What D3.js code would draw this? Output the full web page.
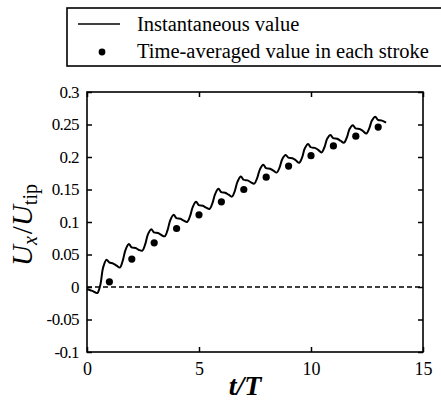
<!DOCTYPE html>
<html><head><meta charset="utf-8">
<script src="https://cdn.jsdelivr.net/npm/d3@7"></script>
<style>
html,body{margin:0;padding:0;background:#fff;}
svg{display:block;font-family:"Liberation Serif","Times New Roman",serif;}
</style></head>
<body><svg id="c" width="441" height="403"></svg>
<script>
// ---- data ----
const lineT = [0, 0.15, 0.3, 0.4, 0.47, 0.6, 0.72, 0.87, 0.99, 1.17, 1.32,
  1.47, 1.6, 1.72, 1.87, 1.99, 2.17, 2.32,
  2.47, 2.6, 2.72, 2.87, 2.99, 3.17, 3.32,
  3.47, 3.6, 3.72, 3.87, 3.99, 4.17, 4.32,
  4.47, 4.6, 4.72, 4.87, 4.99, 5.17, 5.32,
  5.47, 5.6, 5.72, 5.87, 5.99, 6.17, 6.32,
  6.47, 6.6, 6.72, 6.87, 6.99, 7.17, 7.32,
  7.47, 7.6, 7.72, 7.87, 7.99, 8.17, 8.32,
  8.47, 8.6, 8.72, 8.87, 8.99, 9.17, 9.32,
  9.47, 9.6, 9.72, 9.87, 9.99, 10.17, 10.32,
  10.47, 10.6, 10.72, 10.87, 10.99, 11.17, 11.32,
  11.47, 11.6, 11.72, 11.87, 11.99, 12.17, 12.32,
  12.47, 12.6, 12.72, 12.87, 12.99, 13.17, 13.35];
const lineV = [-0.003, -0.005, -0.007, -0.009, -0.009, 0.004, 0.030, 0.042, 0.038, 0.036, 0.033,
  0.030, 0.041, 0.057, 0.066, 0.061, 0.060, 0.057,
  0.056, 0.066, 0.081, 0.089, 0.084, 0.083, 0.080,
  0.078, 0.088, 0.103, 0.111, 0.106, 0.105, 0.102,
  0.100, 0.109, 0.123, 0.131, 0.126, 0.125, 0.122,
  0.120, 0.129, 0.143, 0.151, 0.146, 0.145, 0.142,
  0.139, 0.148, 0.162, 0.170, 0.165, 0.164, 0.161,
  0.159, 0.168, 0.181, 0.188, 0.183, 0.182, 0.179,
  0.176, 0.184, 0.197, 0.203, 0.199, 0.198, 0.195,
  0.191, 0.199, 0.213, 0.220, 0.215, 0.214, 0.211,
  0.207, 0.215, 0.228, 0.234, 0.229, 0.228, 0.225,
  0.222, 0.230, 0.243, 0.249, 0.244, 0.243, 0.240,
  0.236, 0.244, 0.256, 0.262, 0.257, 0.256, 0.253];
const strokeT = [1, 2, 3, 4, 5, 6, 7, 8, 9, 10, 11, 12, 13];
const strokeV = [0.008, 0.043, 0.068, 0.090, 0.111, 0.131, 0.150, 0.169, 0.186, 0.202, 0.217, 0.232, 0.246];
const xTicks = [0, 5, 10, 15];
const yTicks = [-0.1, -0.05, 0, 0.05, 0.1, 0.15, 0.2, 0.25, 0.3];
const legendLabels = ["Instantaneous value", "Time-averaged value in each stroke"];

// ---- layout ----
const L = 87, R = 423, T = 92, B = 352;
const svg = d3.select("#c");
const x = d3.scaleLinear().domain([0, 15]).range([L, R]);
const y = d3.scaleLinear().domain([-0.1, 0.3]).range([B, T]);
const fmt = d => (d === 0 ? "0" : String(+d.toFixed(2)));

// axes (ticks inward)
const tl = 5;
svg.append("g").attr("transform", `translate(0,${B})`)
  .call(d3.axisBottom(x).tickValues(xTicks).tickSizeInner(-tl).tickSizeOuter(0).tickPadding(tl + 5).tickFormat(d3.format("d")))
  .call(g => { g.select(".domain").remove(); g.selectAll("text").attr("font-size", 18).attr("font-family", "Liberation Serif").attr("fill", "#000"); g.selectAll("line").attr("stroke-width", 1.5); });
svg.append("g").attr("transform", `translate(0,${T})`)
  .call(d3.axisTop(x).tickValues(xTicks).tickSizeInner(-tl).tickSizeOuter(0).tickFormat(""))
  .call(g => { g.select(".domain").remove(); g.selectAll("line").attr("stroke-width", 1.5); });
svg.append("g").attr("transform", `translate(${L},0)`)
  .call(d3.axisLeft(y).tickValues(yTicks).tickSizeInner(-tl).tickSizeOuter(0).tickPadding(tl + 3).tickFormat(fmt))
  .call(g => { g.select(".domain").remove(); g.selectAll("text").attr("font-size", 17).attr("font-family", "Liberation Serif").attr("letter-spacing", "-0.6px").attr("fill", "#000"); g.selectAll("line").attr("stroke-width", 1.5); });
svg.append("g").attr("transform", `translate(${R},0)`)
  .call(d3.axisRight(y).tickValues(yTicks).tickSizeInner(-tl).tickSizeOuter(0).tickFormat(""))
  .call(g => { g.select(".domain").remove(); g.selectAll("line").attr("stroke-width", 1.5); });

svg.append("rect").attr("x", L).attr("y", T).attr("width", R - L).attr("height", B - T)
  .attr("fill", "none").attr("stroke", "#000").attr("stroke-width", 1.6);

// zero dashed line
svg.append("line").attr("x1", x(0)).attr("x2", x(15)).attr("y1", y(0)).attr("y2", y(0))
  .attr("stroke", "#000").attr("stroke-width", 1.5).attr("stroke-dasharray", "5,3");

// instantaneous line
const pts = lineT.map((t, i) => [t, lineV[i]]);
svg.append("path").datum(pts)
  .attr("d", d3.line().x(d => x(d[0])).y(d => y(d[1])).curve(d3.curveCatmullRom.alpha(0.5)))
  .attr("fill", "none").attr("stroke", "#000").attr("stroke-width", 2);

// stroke averages
svg.append("g").selectAll("circle").data(strokeT).join("circle")
  .attr("cx", d => x(d)).attr("cy", (d, i) => y(strokeV[i])).attr("r", 3.6).attr("fill", "#000");

// axis titles
svg.append("text").attr("x", 245).attr("y", 395).attr("text-anchor", "middle")
  .attr("font-size", 28).attr("font-style", "italic").attr("font-weight", "bold").text("t/T");

const yt = svg.append("text").attr("transform", "translate(32,225) rotate(-90)").attr("text-anchor", "middle")
  .attr("font-size", 29);
yt.append("tspan").attr("font-style", "italic").text("U");
yt.append("tspan").attr("font-style", "italic").attr("font-size", 20).attr("dy", 5).text("x");
yt.append("tspan").attr("dy", -5).attr("dx", 2).text("/");
yt.append("tspan").attr("font-style", "italic").text("U");
yt.append("tspan").attr("font-size", 20).attr("dy", 5).text("tip");

// legend
svg.append("rect").attr("x", 67).attr("y", 8).attr("width", 380).attr("height", 58)
  .attr("fill", "#fff").attr("stroke", "#000").attr("stroke-width", 1.6);
svg.append("line").attr("x1", 78).attr("x2", 120).attr("y1", 24).attr("y2", 24)
  .attr("stroke", "#000").attr("stroke-width", 1.5);
svg.append("circle").attr("cx", 102).attr("cy", 52).attr("r", 3.4).attr("fill", "#000");
svg.selectAll(".lg").data(legendLabels).join("text").attr("class", "lg")
  .attr("x", 137).attr("y", (d, i) => 31 + i * 27).attr("font-size", 20.5).attr("fill", "#000").text(d => d);
</script></body></html>
